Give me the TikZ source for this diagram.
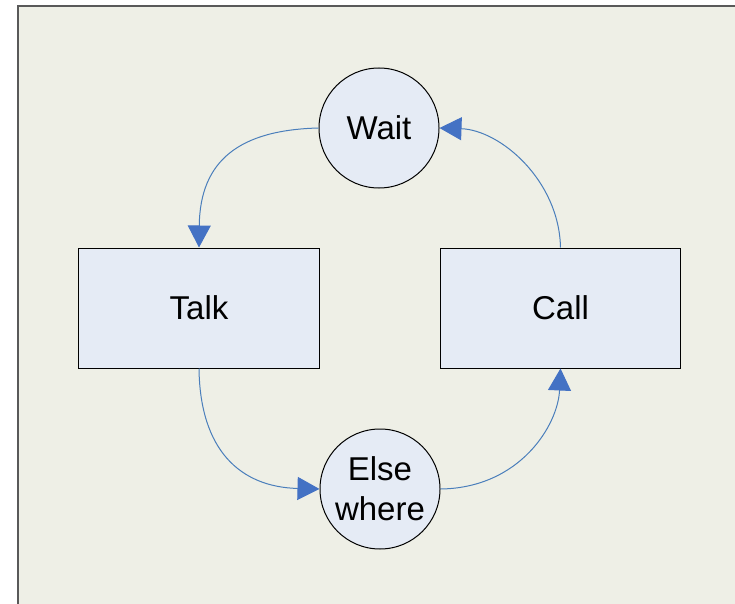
\documentclass[tikz,border=0pt]{standalone}
\usepackage{fontspec}
\setmainfont{Liberation Sans}
\usetikzlibrary{arrows.meta}
\definecolor{bgc}{HTML}{EEEFE6}
\definecolor{nodefill}{HTML}{E5EBF5}
\definecolor{linec}{HTML}{4A7EBB}
\definecolor{headc}{HTML}{4472C4}
\tikzset{
  statecircle/.style={circle, draw=black, line width=1bp, fill=nodefill, minimum size=120bp, inner sep=0pt, align=center, font=\fontsize{33bp}{40bp}\selectfont},
  statebox/.style={rectangle, draw=black, line width=1bp, fill=nodefill, minimum width=240bp, minimum height=120bp, inner sep=0pt, font=\fontsize{33bp}{40bp}\selectfont},
  conn/.style={draw=linec, line width=1bp, -{Triangle[length=22bp,width=23bp,fill=headc,color=headc]}}
}
\begin{document}
\begin{tikzpicture}[x=1bp,y=-1bp]
\useasboundingbox (0,0) rectangle (735,604);
\fill[white] (0,0) rectangle (735,604);
\fill[bgc] (18,6) rectangle (736,605);
\draw[draw=black!65, line width=1.2bp] (18,605) -- (18,6) -- (736,6);
\node[statecircle] (wait) at (379,128) {Wait};
\node[statecircle] (else) at (380,489) {Else\\where};
\node[statebox] (talk) at (199,308) {Talk};
\node[statebox] (call) at (560.5,308) {Call};
\draw[conn] (wait.west) .. controls (240,130) and (200,160) .. (talk.north);
\draw[conn] (talk.south) .. controls (200,450) and (240,487) .. (else.west);
\draw[conn] (else.east) .. controls (520,488) and (558,425) .. (call.south);
\draw[conn] (call.north) .. controls (559,180) and (500,130) .. (wait.east);
\end{tikzpicture}
\end{document}
